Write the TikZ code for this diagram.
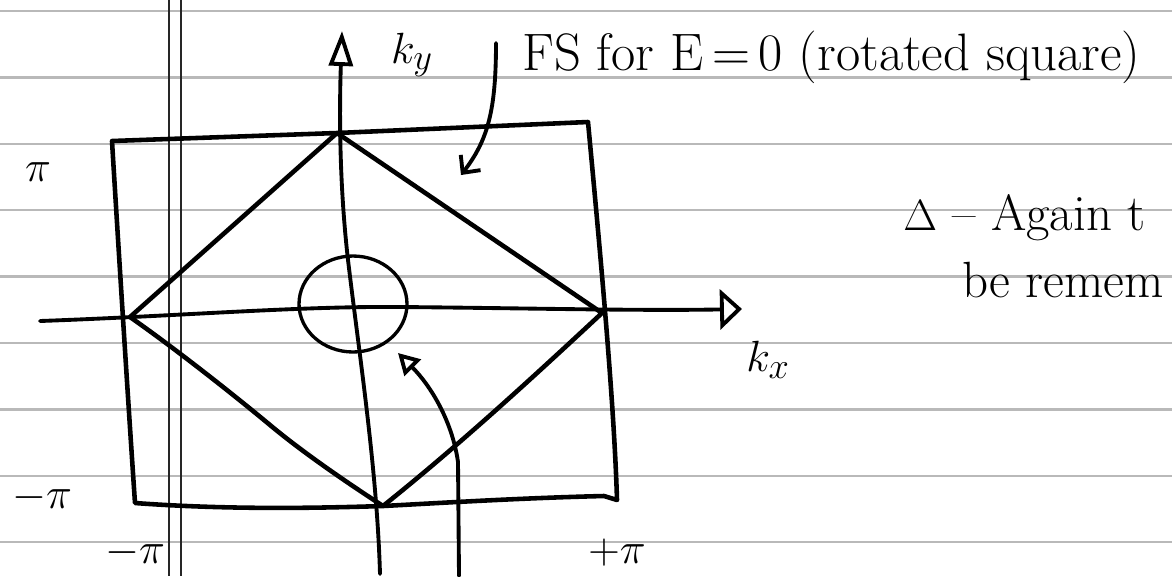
\documentclass[tikz,border=0pt]{standalone}
\usepackage{amsmath,amssymb}
\usepackage{tikz}
\usetikzlibrary{arrows.meta,positioning,calc}
\tikzset{
  ruleln/.style={line width=1.4pt, gray!55},
  marginln/.style={line width=1pt, black!85},
  penln/.style={line width=2.6pt, line cap=round, line join=round},
  axisln/.style={penln, line width=2.2pt},
  kxaxis/.style={axisln, -{Triangle[open, length=0.44cm, width=0.8cm]}},
  kyaxis/.style={axisln, -{Triangle[open, length=0.7cm, width=0.48cm]}},
  fsptr/.style={axisln, -{Straight Barb[length=0.26cm, width=0.5cm]}},
  gamptr/.style={axisln, -{Triangle[open, length=0.42cm, width=0.46cm]}},
  handtxt/.style={font=\fontsize{30}{34}\selectfont, inner sep=0pt},
}

\begin{document}
\begin{tikzpicture}[x=0.02cm, y=-0.02cm]
  \useasboundingbox (0,0) rectangle (1172,576);
  \clip (0,0) rectangle (1172,576);
  \fill[white] (0,0) rectangle (1172,576);
  % ruled paper
  \foreach \k in {0,...,8}
    \draw[ruleln] (0,{11+66.4*\k}) -- (1172,{11+66.4*\k});
  \foreach \x in {169,181}
    \draw[marginln] (\x,0) -- (\x,576);

  % zone corners, E=0 square corners
  \coordinate (bzTL) at (112,141);
  \coordinate (bzTR) at (588,122);
  \coordinate (bzBR) at (617,500);
  \coordinate (bzBL) at (135,503);
  \coordinate (sqT) at (337,133);
  \coordinate (sqR) at (602,313);
  \coordinate (sqB) at (383,506);
  \coordinate (sqL) at (130,317);
  \coordinate (gam) at (353,304);

  % zone boundary
  \draw[penln] (bzTL) -- (sqT) -- (bzTR)
    .. controls (600,250) and (614,400) .. (bzBR)
    -- (604,496) .. controls (520,498) and (440,503) .. (sqB)
    .. controls (320,508) and (230,510) .. (bzBL)
    .. controls (128,400) and (118,240) .. cycle;

  % Fermi surface at E=0
  \draw[penln] (sqT) -- (sqR) .. controls (530,380) and (458,446) .. (sqB)
    .. controls (340,478) and (300,450) .. (270,425)
    .. controls (240,400) and (180,352) .. (sqL) -- cycle;
  \draw[penln, line width=1.9pt] (gam) ellipse [x radius=1.08cm, y radius=0.96cm];

  % axes
  \coordinate (kxtail) at (40,321);
  \coordinate (kxtip) at (742,309);
  \coordinate (kyfoot) at (380,574);
  \coordinate (kytip) at (342,31);
  \draw[kxaxis] (kxtail) .. controls (180,316) and (300,306) .. (400,307)
    .. controls (520,308) and (640,311) .. (kxtip);
  \draw[kyaxis] (kyfoot) .. controls (377,470) and (360,360) .. (348,260)
    .. controls (340,190) and (339,120) .. (kytip);

  % pointers
  \coordinate (fstail) at (496,43);
  \coordinate (fshead) at (461,175);
  \coordinate (gamfoot) at (459,576);
  \coordinate (gamhead) at (398,353);
  \draw[fsptr] (fstail) .. controls (496,110) and (488,140) .. (fshead);
  \draw[gamptr] (gamfoot) -- (458,462) .. controls (452,420) and (430,385) .. (gamhead);

  % labels
  \node[handtxt, anchor=base west] (fslab) at (522,70) {FS for E\,=\,0 (rotated square)};
  \node[handtxt] (kylab) at (412,55) {$k_y$};
  \node[handtxt] (kxlab) at (768,360) {$k_x$};
  \foreach \nm/\x/\y/\lab in {pi/38/172/{\pi}, mpiy/42/498/{-\pi},
    mpix/135/553/{-\pi}, ppix/617/553/{+\pi}}
    \node[handtxt] (\nm) at (\x,\y) {$\lab$};
  \node[handtxt, font=\fontsize{29}{33}\selectfont, anchor=base west] (note1)
    at (903,230) {$\Delta$ -- Again t};
  \node[handtxt, font=\fontsize{29}{33}\selectfont, anchor=base west] (note2)
    at (962,297) {be remem};
\end{tikzpicture}
\end{document}
